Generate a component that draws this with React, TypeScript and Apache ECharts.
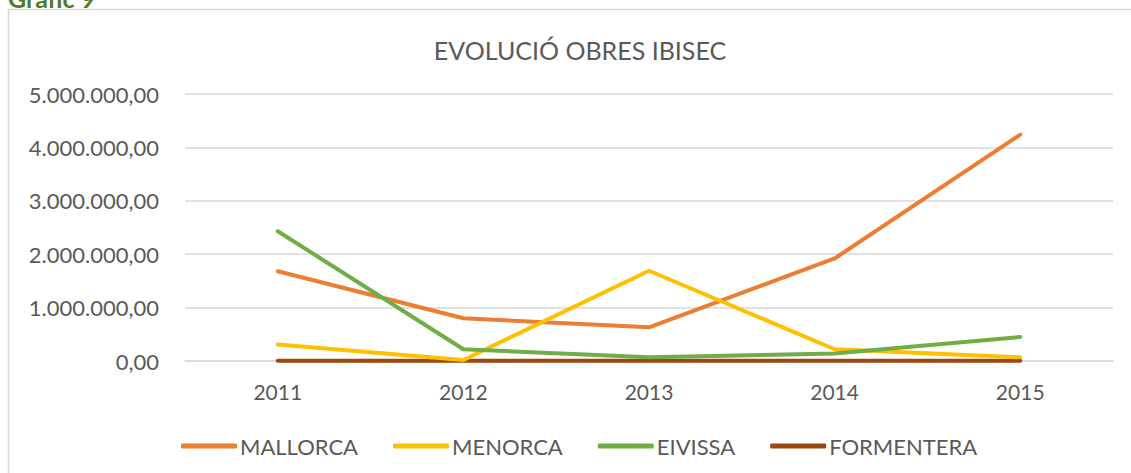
import React, { useEffect, useRef } from "react";
import * as echarts from "echarts";

const categories = ["2011", "2012", "2013", "2014", "2015"];
const mallorca = [1680000, 800000, 630000, 1920000, 4240000];
const menorca = [310000, 20000, 1690000, 220000, 70000];
const eivissa = [2430000, 220000, 70000, 140000, 450000];
const formentera = [5000, 5000, 5000, 5000, 5000];
const seriesNames = ["MALLORCA", "MENORCA", "EIVISSA", "FORMENTERA"];
const seriesColors = ["#ED7D31", "#FFC000", "#70AD47", "#9E480E"];

function fmt(v: number): string {
  const s = Math.round(v).toString().replace(/\B(?=(\d{3})+(?!\d))/g, ".");
  return s + ",00";
}

export default function App() {
  const ref = useRef<HTMLDivElement>(null);
  useEffect(() => {
    if (!ref.current) return;
    const chart = echarts.init(ref.current, null, { renderer: "svg" });
    const font = "Lato, 'Open Sans', sans-serif";
    const data = [mallorca, menorca, eivissa, formentera];
    chart.setOption({
      animation: false,
      backgroundColor: "#ffffff",
      title: {
        text: "EVOLUCIÓ OBRES IBISEC",
        left: 575,
        textAlign: "center",
        top: 32,
        textStyle: { color: "#595959", fontSize: 25, fontWeight: "normal", fontFamily: font },
      },
      graphic: [
        {
          type: "rect",
          shape: { x: 8.5, y: 9.5, width: 1130, height: 470 },
          style: { fill: "none", stroke: "#d9d9d9", lineWidth: 1.5 },
          silent: true,
        },
        {
          type: "text",
          x: 8,
          y: 10,
          style: {
            text: "Gràfic 9",
            fill: "#4F7A28",
            font: "bold 25px " + font,
            verticalAlign: "bottom",
            align: "left",
          },
        },
      ],
      legend: {
        data: seriesNames,
        left: 176,
        top: 430,
        itemWidth: 56,
        itemHeight: 5,
        itemGap: 35,
        icon: "roundRect",
        textStyle: { color: "#595959", fontSize: 22, fontFamily: font, padding: [0, 0, 0, -2] },
      },
      grid: { left: 185, right: 18, top: 94, height: 267, containLabel: false },
      xAxis: {
        type: "category",
        data: categories,
        boundaryGap: true,
        axisLine: { show: true, lineStyle: { color: "#d9d9d9", width: 1.5 } },
        axisTick: { show: false },
        axisLabel: { color: "#595959", fontSize: 21, fontFamily: font, margin: 20 },
      },
      yAxis: {
        type: "value",
        min: 0,
        max: 5000000,
        interval: 1000000,
        axisLine: { show: false },
        axisTick: { show: false },
        splitLine: { lineStyle: { color: "#d9d9d9", width: 1.5 } },
        axisLabel: { color: "#595959", fontSize: 22, fontFamily: font, margin: 26, formatter: (v: number) => fmt(v) },
      },
      series: seriesNames.map((name, i) => ({
        name,
        type: "line",
        data: data[i],
        symbol: "none",
        lineStyle: { width: 4, color: seriesColors[i], cap: "round", join: "round" },
        itemStyle: { color: seriesColors[i] },
        z: i === 3 ? 1 : 2 + i,
      })),
    });
    return () => chart.dispose();
  }, []);
  return <div ref={ref} style={{ position: "fixed", left: 0, top: 0, width: 1131, height: 473 }} />;
}
